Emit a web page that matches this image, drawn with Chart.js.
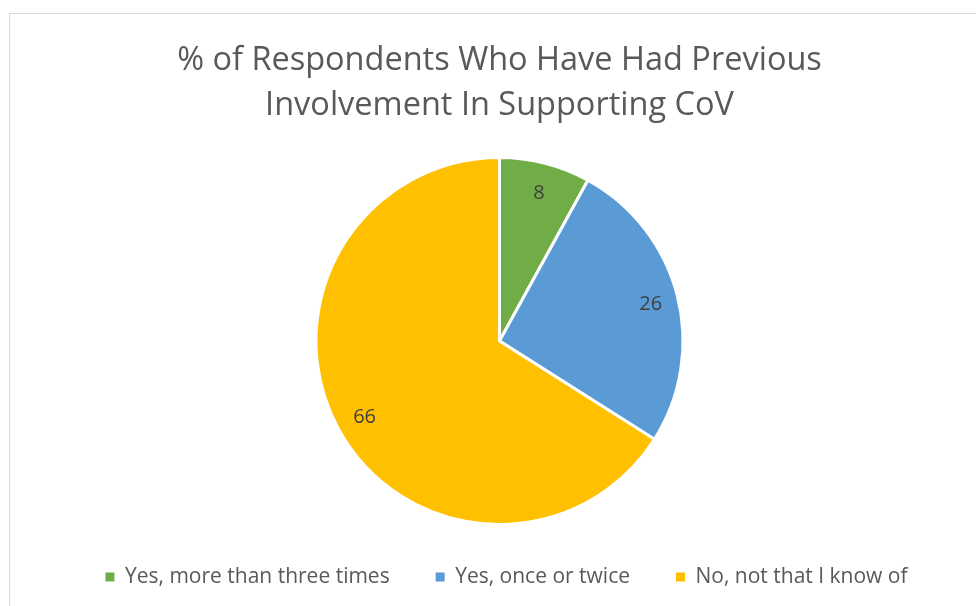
<!DOCTYPE html>
<html>
<head>
<meta charset="utf-8">
<script src="https://cdn.jsdelivr.net/npm/chart.js@4.4.1/dist/chart.umd.min.js"></script>
<style>
  html, body { margin: 0; padding: 0; background: #ffffff; overflow: hidden; }
  #frame { position: absolute; left: 9px; top: 13px; width: 1000px; height: 700px; border: 1px solid #d9d9d9; box-sizing: border-box; }
  #c { position: absolute; left: 0; top: 0; }
</style>
</head>
<body>
<div id="frame"></div>
<canvas id="c" width="976" height="606"></canvas>
<script>
const titleLines = ["% of Respondents Who Have Had Previous", "Involvement In Supporting CoV"];
const categories = ["Yes, more than three times", "Yes, once or twice", "No, not that I know of"];
const values = [8, 26, 66];
const colors = ["#70AD47", "#5B9BD5", "#FFC000"];

const valueLabels = {
  id: 'valueLabels',
  afterDatasetsDraw(chart) {
    const ctx = chart.ctx;
    const meta = chart.getDatasetMeta(0);
    ctx.save();
    ctx.font = '20px "Open Sans"';
    ctx.fillStyle = '#404040';
    ctx.textAlign = 'center';
    ctx.textBaseline = 'middle';
    meta.data.forEach((arc, i) => {
      const p = arc.getProps(['x', 'y', 'startAngle', 'endAngle', 'outerRadius'], true);
      const mid = (p.startAngle + p.endAngle) / 2;
      const r = p.outerRadius * 0.845;
      ctx.fillText(String(chart.data.datasets[0].data[i]), p.x + Math.cos(mid) * r + 1, p.y + Math.sin(mid) * r + 2);
    });
    ctx.restore();
  }
};

const legendShift = {
  id: 'legendShift',
  afterLayout(chart) {
    const l = chart.legend;
    if (l) { l.left += 7; l.right += 7; }
  }
};

new Chart(document.getElementById('c'), {
  type: 'pie',
  data: {
    labels: categories,
    datasets: [{
      data: values,
      backgroundColor: colors,
      borderColor: '#ffffff',
      borderWidth: 3,
      hoverBorderWidth: 3,
      hoverOffset: 0
    }]
  },
  options: {
    responsive: false,
    animation: false,
    events: [],
    radius: 183.5,
    layout: { padding: { left: 23, right: 0, top: 0, bottom: 8.5 } },
    plugins: {
      title: {
        display: true,
        text: titleLines,
        color: '#595959',
        font: { family: '"Open Sans"', size: 32.5, weight: 400, lineHeight: 45 / 32.5 },
        padding: { top: 38, bottom: 33.5 }
      },
      legend: {
        position: 'bottom',
        labels: {
          color: '#595959',
          font: { family: '"Open Sans"', size: 21 },
          boxWidth: 9,
          boxHeight: 9,
          padding: 46,
          generateLabels(chart) {
            return Chart.overrides.pie.plugins.legend.labels.generateLabels(chart)
              .map(item => Object.assign(item, { lineWidth: 0 }));
          }
        }
      },
      tooltip: { enabled: false }
    }
  },
  plugins: [valueLabels, legendShift]
});
</script>
</body>
</html>
